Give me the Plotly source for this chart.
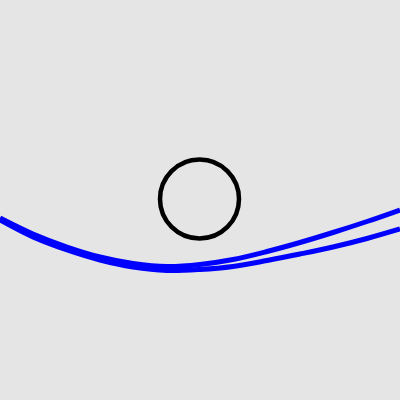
import plotly.graph_objects as go

# curve data (x, y in plot units; y axis points downward)
x_a = [0, 33, 67, 100, 133, 167, 200, 233, 267, 300, 333, 367, 400]
y_a = [218, 234, 247, 257, 263.5, 266.5, 264.5, 259.5, 251.5, 242.5, 232.5, 221.5, 210]
x_b = [0, 33, 67, 100, 133, 167, 200, 233, 267, 300, 333, 367, 400]
y_b = [220, 237, 250, 260, 267, 270.5, 269.5, 266.5, 260.5, 254, 247, 238.5, 229]

circle_cx = 199.5
circle_cy = 199
circle_r = 39.5

fig = go.Figure()
for xs, ys in [(x_a, y_a), (x_b, y_b)]:
    fig.add_trace(go.Scatter(x=xs, y=ys, mode="lines",
                             line=dict(color="#0000ff", width=5, shape="spline"),
                             hoverinfo="skip"))

fig.add_shape(type="circle", xref="x", yref="y",
              x0=circle_cx - circle_r, x1=circle_cx + circle_r,
              y0=circle_cy - circle_r, y1=circle_cy + circle_r,
              line=dict(color="#000000", width=4.5))

fig.update_layout(
    width=400, height=400,
    margin=dict(l=0, r=0, t=0, b=0),
    paper_bgcolor="#e5e5e5", plot_bgcolor="#e5e5e5",
    showlegend=False,
    xaxis=dict(range=[0, 400], visible=False, fixedrange=True),
    yaxis=dict(range=[400, 0], visible=False, fixedrange=True),
)
fig.write_html("out.html", config={"displayModeBar": False},
               post_script="document.body.style.margin='0';document.body.style.overflow='hidden';")
